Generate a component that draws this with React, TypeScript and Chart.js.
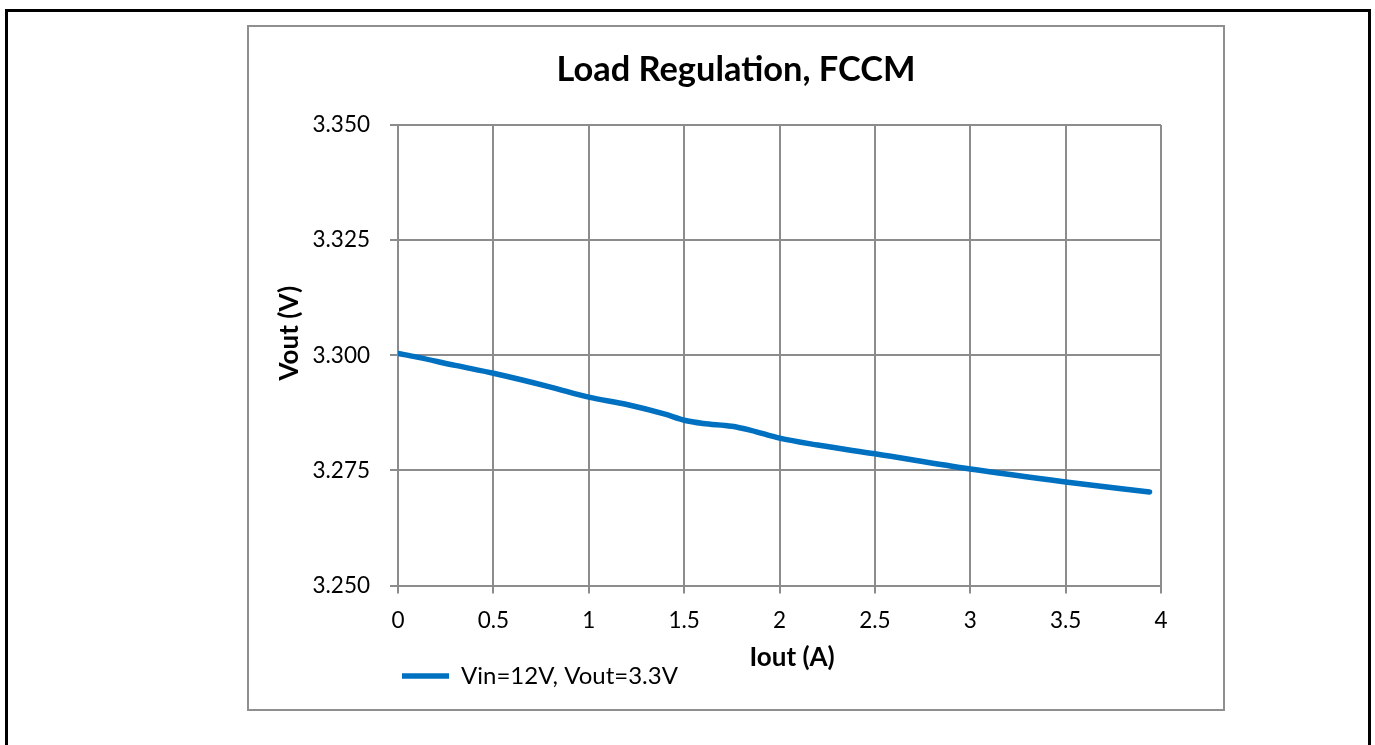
import React, { useEffect, useRef } from 'react';
import { Chart, registerables } from 'chart.js';

Chart.register(...registerables);

const iout = [0, 0.1, 0.3, 0.5, 0.8, 1.0, 1.2, 1.4, 1.5, 1.6, 1.75, 1.85, 2.0, 2.2, 2.5, 3.0, 3.5, 3.94];
const vout = [3.3004, 3.2996, 3.2978, 3.2961, 3.2931, 3.2909, 3.2893, 3.2872, 3.2859, 3.2852, 3.2846, 3.2837, 3.282, 3.2805, 3.2786, 3.2753, 3.2725, 3.2703];
const xTicks = [0, 0.5, 1, 1.5, 2, 2.5, 3, 3.5, 4];
const yTicks = [3.25, 3.275, 3.3, 3.325, 3.35];
const seriesLabel = 'Vin=12V, Vout=3.3V';
const chartTitle = 'Load Regulation, FCCM';
const xTitle = 'Iout (A)';
const yTitle = 'Vout (V)';

const FONT = 'Lato';
const GRID = '#8c8c8c';

export default function App() {
  const ref = useRef<HTMLCanvasElement>(null);
  useEffect(() => {
    const chart = new Chart(ref.current!, {
      type: 'line',
      data: {
        datasets: [
          {
            label: seriesLabel,
            data: iout.map((x, i) => ({ x, y: vout[i] })),
            borderColor: '#0070C0',
            backgroundColor: '#0070C0',
            borderWidth: 5.5,
            pointRadius: 0,
            pointHoverRadius: 0,
            cubicInterpolationMode: 'monotone',
            borderCapStyle: 'round',
            borderJoinStyle: 'round',
            fill: false,
          },
        ],
      },
      options: {
        responsive: false,
        animation: false,
        devicePixelRatio: 1,
        events: [],
        layout: { padding: { left: 0, top: 0, right: 0, bottom: 11 } },
        plugins: {
          title: {
            display: true,
            text: chartTitle,
            color: '#000',
            font: { family: FONT, size: 34.4, weight: 'bold', lineHeight: 1.2 },
            padding: { top: 22.4, bottom: 34.4 },
          },
          legend: {
            display: true,
            position: 'bottom',
            align: 'start',
            fullSize: false,
            labels: {
              usePointStyle: true,
              pointStyle: 'line',
              pointStyleWidth: 47,
              color: '#000',
              font: { family: FONT, size: 24 },
              padding: 4,
            },
          },
          tooltip: { enabled: false },
        },
        scales: {
          x: {
            type: 'linear',
            min: 0,
            max: 4,
            afterBuildTicks: (s: any) => {
              s.ticks = xTicks.map((v) => ({ value: v }));
            },
            afterFit: (s: any) => {
              s.height = 74.5;
            },
            grid: { color: GRID, lineWidth: 2, tickLength: 8, tickColor: GRID, drawTicks: true },
            border: { color: GRID, width: 2 },
            ticks: {
              color: '#000',
              font: { family: FONT, size: 22.5 },
              padding: 13.5,
              maxRotation: 0,
              autoSkip: false,
              callback: (v: any) => String(v),
            },
            title: {
              display: true,
              text: '    ' + xTitle,
              color: '#000',
              font: { family: FONT, size: 26, weight: 'bold', lineHeight: 1.2 },
              padding: { top: 0, bottom: -13.6 },
            },
          },
          y: {
            type: 'linear',
            min: 3.25,
            max: 3.35,
            afterBuildTicks: (s: any) => {
              s.ticks = yTicks.map((v) => ({ value: v }));
            },
            afterFit: (s: any) => {
              s.width = 149;
            },
            grid: { color: GRID, lineWidth: 2, tickLength: 8, tickColor: GRID, drawTicks: true },
            border: { color: GRID, width: 2 },
            ticks: {
              color: '#000',
              font: { family: FONT, size: 22.5 },
              padding: 20,
              autoSkip: false,
              callback: (v: any) => Number(v).toFixed(3),
            },
            title: {
              display: true,
              text: '       ' + yTitle,
              color: '#000',
              font: { family: FONT, size: 26, weight: 'bold', lineHeight: 1.2 },
              padding: { top: 25.4, bottom: 0 },
            },
          },
          yRight: {
            type: 'linear',
            position: 'right',
            display: true,
            min: 0,
            max: 1,
            grid: { display: false, drawTicks: false },
            border: { display: false },
            ticks: { display: false },
            afterFit: (s: any) => {
              s.width = 62;
            },
          },
        },
      },
    } as any);
    return () => chart.destroy();
  }, []);

  return (
    <div
      style={{
        position: 'fixed',
        left: 0,
        top: 0,
        width: 1375,
        height: 745,
        overflow: 'hidden',
        background: '#fff',
      }}
    >
      <div
        style={{
          position: 'absolute',
          left: 5,
          top: 9,
          width: 1366,
          height: 800,
          border: '3px solid #000',
          boxSizing: 'border-box',
        }}
      />
      <div
        style={{
          position: 'absolute',
          left: 247,
          top: 25,
          width: 978,
          height: 686,
          border: '2px solid #8f8f8f',
          boxSizing: 'border-box',
          background: '#fff',
        }}
      >
        <canvas
          ref={ref}
          width={974}
          height={682}
          style={{ position: 'absolute', left: 0, top: 0, width: 974, height: 682, display: 'block' }}
        />
      </div>
    </div>
  );
}
